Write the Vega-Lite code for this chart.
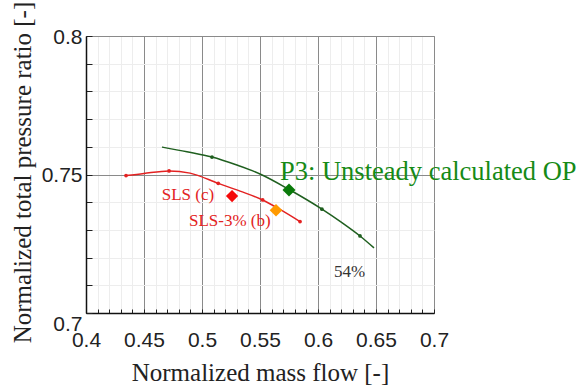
{
  "$schema": "https://vega.github.io/schema/vega-lite/v6.json",
  "width": 348,
  "height": 277,
  "autosize": "none",
  "padding": {"left": 86, "top": 36, "right": 151, "bottom": 72},
  "background": "white",
  "view": {"stroke": "#999999", "strokeWidth": 1},
  "datasets": {
    "curves": [
      {"curve": "54%", "x": 0.4655, "y": 0.7599},
      {"curve": "54%", "x": 0.4870, "y": 0.7582},
      {"curve": "54%", "x": 0.5086, "y": 0.7563},
      {"curve": "54%", "x": 0.5300, "y": 0.7534},
      {"curve": "54%", "x": 0.5500, "y": 0.7502},
      {"curve": "54%", "x": 0.5759, "y": 0.7444},
      {"curve": "54%", "x": 0.6034, "y": 0.7375},
      {"curve": "54%", "x": 0.6200, "y": 0.7328},
      {"curve": "54%", "x": 0.6362, "y": 0.7278},
      {"curve": "54%", "x": 0.6483, "y": 0.7235},
      {"curve": "SLS", "x": 0.4345, "y": 0.7496},
      {"curve": "SLS", "x": 0.4500, "y": 0.7504},
      {"curve": "SLS", "x": 0.4716, "y": 0.7513},
      {"curve": "SLS", "x": 0.4897, "y": 0.7505},
      {"curve": "SLS", "x": 0.5140, "y": 0.7468},
      {"curve": "SLS", "x": 0.5328, "y": 0.7440},
      {"curve": "SLS", "x": 0.5523, "y": 0.7408},
      {"curve": "SLS", "x": 0.5672, "y": 0.7374},
      {"curve": "SLS", "x": 0.5845, "y": 0.7330}
    ],
    "computed": [
      {"curve": "54%", "x": 0.5086, "y": 0.7563},
      {"curve": "54%", "x": 0.6034, "y": 0.7375},
      {"curve": "54%", "x": 0.6362, "y": 0.7278},
      {"curve": "SLS", "x": 0.4345, "y": 0.7496},
      {"curve": "SLS", "x": 0.4716, "y": 0.7513},
      {"curve": "SLS", "x": 0.5140, "y": 0.7468},
      {"curve": "SLS", "x": 0.5523, "y": 0.7408},
      {"curve": "SLS", "x": 0.5845, "y": 0.7330}
    ],
    "ops": [
      {"op": "SLS (c)", "x": 0.5259, "y": 0.7422},
      {"op": "SLS-3% (b)", "x": 0.5638, "y": 0.7371},
      {"op": "P3", "x": 0.5750, "y": 0.7444}
    ],
    "redlabels": [
      {"label": "SLS (c)", "x": 0.4653, "y": 0.7408},
      {"label": "SLS-3% (b)", "x": 0.4888, "y": 0.7314}
    ],
    "greenlabel": [
      {"label": "P3: Unsteady calculated OP", "x": 0.5672, "y": 0.7480}
    ],
    "speedlabel": [
      {"label": "54%", "x": 0.6138, "y": 0.7131}
    ]
  },
  "encoding": {
    "x": {
      "field": "x", "type": "quantitative",
      "scale": {"domain": [0.4, 0.7], "nice": false, "zero": false},
      "axis": {
        "title": "Normalized mass flow [-]",
        "values": [0.4,0.41,0.42,0.43,0.44,0.45,0.46,0.47,0.48,0.49,0.5,0.51,0.52,0.53,0.54,0.55,0.56,0.57,0.58,0.59,0.6,0.61,0.62,0.63,0.64,0.65,0.66,0.67,0.68,0.69,0.7],
        "format": "~g",
        "labelExpr": "abs(round(datum.value*100) % 5) < 0.5 ? datum.label : ''",
        "labelOverlap": false,
        "labelFlush": false,
        "labelFont": "Liberation Sans",
        "labelFontSize": 21,
        "labelColor": "#222222",
        "labelPadding": 20,
        "tickSize": -4,
        "tickColor": "#222222",
        "domainColor": "#111111",
        "domainWidth": 1.5,
        "grid": true,
        "gridColor": {"condition": {"test": "abs(round(datum.value*100) % 5) < 0.5", "value": "#8a8a8a"}, "value": "#ededed"},
        "titleFont": "Liberation Serif",
        "titleFontSize": 25,
        "titleFontWeight": "normal",
        "titleColor": "#222222",
        "titleX": 174,
        "titleY": 67,
        "titleBaseline": "alphabetic"
      }
    },
    "y": {
      "field": "y", "type": "quantitative",
      "scale": {"domain": [0.7, 0.8], "nice": false, "zero": false},
      "axis": {
        "title": "Normalized total pressure ratio [-]",
        "values": [0.7,0.71,0.72,0.73,0.74,0.75,0.76,0.77,0.78,0.79,0.8],
        "format": "~g",
        "labelExpr": "abs(round(datum.value*100) % 5) < 0.5 ? datum.label : ''",
        "labelOverlap": false,
        "labelFlush": false,
        "labelFont": "Liberation Sans",
        "labelFontSize": 21,
        "labelColor": "#222222",
        "labelPadding": 10,
        "labelOffset": {"condition": {"test": "datum.value < 0.705", "value": 11}, "value": 1},
        "tickSize": -6,
        "tickColor": "#222222",
        "domainColor": "#111111",
        "domainWidth": 1.5,
        "grid": true,
        "gridColor": {"condition": {"test": "abs(round(datum.value*100) % 5) < 0.5", "value": "#8a8a8a"}, "value": "#ededed"},
        "titleFont": "Liberation Serif",
        "titleFontSize": 25,
        "titleFontWeight": "normal",
        "titleColor": "#222222",
        "titleX": -64,
        "titleY": 136,
        "titleAngle": -90,
        "titleBaseline": "middle"
      }
    }
  },
  "layer": [
    {
      "data": {"name": "curves"},
      "mark": {"type": "line", "interpolate": "monotone", "strokeWidth": 1.5},
      "encoding": {
        "color": {"field": "curve", "type": "nominal", "scale": {"domain": ["54%", "SLS"], "range": ["#1f5f1f", "#e32222"]}, "legend": null}
      }
    },
    {
      "data": {"name": "computed"},
      "mark": {"type": "point", "filled": true, "size": 14, "opacity": 1},
      "encoding": {
        "color": {"field": "curve", "type": "nominal", "scale": {"domain": ["54%", "SLS"], "range": ["#1f5f1f", "#e32222"]}, "legend": null}
      }
    },
    {
      "data": {"name": "ops"},
      "mark": {"type": "point", "shape": "diamond", "filled": true, "opacity": 1},
      "encoding": {
        "fill": {"field": "op", "type": "nominal", "scale": {"domain": ["SLS (c)", "SLS-3% (b)", "P3"], "range": ["#f50a0a", "#ff9a00", "#0a7a0a"]}, "legend": null},
        "size": {"field": "op", "type": "ordinal", "scale": {"domain": ["SLS (c)", "SLS-3% (b)", "P3"], "range": [150, 170, 260]}, "legend": null}
      }
    },
    {
      "data": {"name": "redlabels"},
      "mark": {"type": "text", "align": "left", "baseline": "alphabetic", "font": "Liberation Serif", "fontSize": 17, "color": "#e32222"},
      "encoding": {"text": {"field": "label"}}
    },
    {
      "data": {"name": "greenlabel"},
      "mark": {"type": "text", "align": "left", "baseline": "alphabetic", "font": "Liberation Serif", "fontSize": 26.5, "color": "#168a16"},
      "encoding": {"text": {"field": "label"}}
    },
    {
      "data": {"name": "speedlabel"},
      "mark": {"type": "text", "align": "left", "baseline": "alphabetic", "font": "Liberation Serif", "fontSize": 17, "color": "#333333"},
      "encoding": {"text": {"field": "label"}}
    }
  ]
}
